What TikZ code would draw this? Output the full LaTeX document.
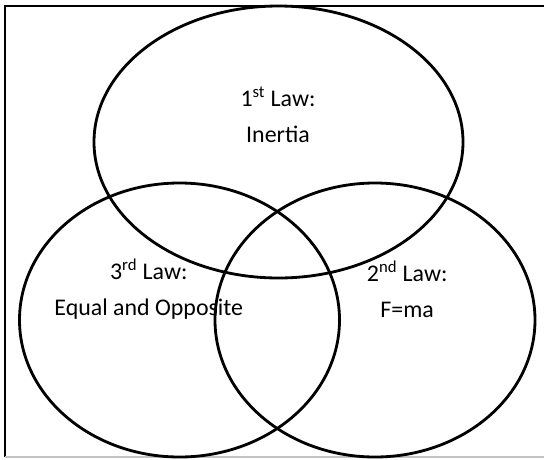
\documentclass[tikz,border=0pt]{standalone}
\usepackage{fontspec}
\setmainfont{Carlito}
\usepackage{tikz}
\usetikzlibrary{positioning}
\definecolor{edgegray}{RGB}{195,195,195}

\begin{document}
\begin{tikzpicture}[every node/.style={font=\fontsize{17}{25.6}\selectfont, align=center}]
            \useasboundingbox (0,0) rectangle (13.6,11.475);
            \draw[line width=1.3pt] (13.6,11.325) -- (0.125,11.325) -- (0.125,0.05);
            \draw[edgegray, line width=0.8pt] (0.125,0.05) -- (13.6,0.05);
            \draw[line width=2pt] (6.9625,7.925) ellipse [x radius=4.6125, y radius=3.4];
            \draw[line width=2pt] (4.4875,3.475) ellipse [x radius=4.0, y radius=3.425];
            \draw[line width=2pt] (9.375,3.475) ellipse [x radius=4.0, y radius=3.425];
            \node (first) at (6.95,8.6) {1\textsuperscript{st} Law:\\Inertia};
            \node (third) at (3.72,4.25) {3\textsuperscript{rd} Law:\\Equal and Opposite};
            \node (second) at (10.18,4.25) {2\textsuperscript{nd} Law:\\F=ma};
        \end{tikzpicture}
\end{document}
